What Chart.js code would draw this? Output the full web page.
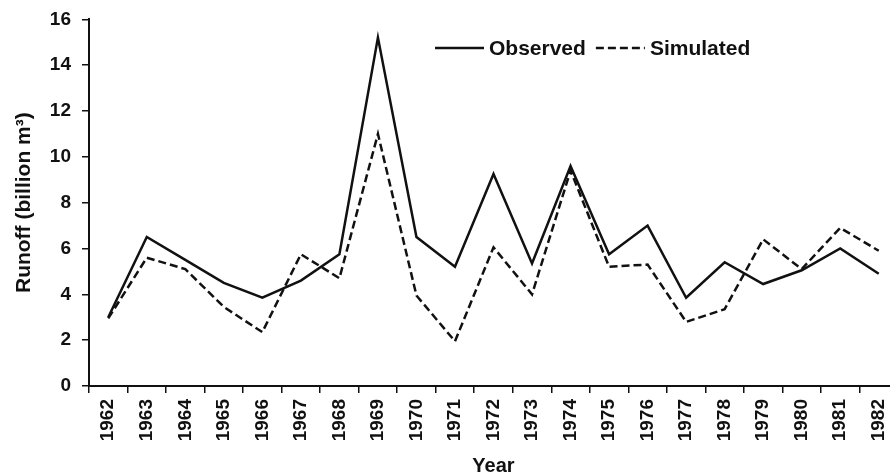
<!DOCTYPE html>
<html>
<head>
<meta charset="utf-8">
<script src="https://cdn.jsdelivr.net/npm/chart.js@4/dist/chart.umd.min.js"></script>
<style>
  html, body { margin: 0; padding: 0; background: #fff; overflow: hidden; }
  /* the original plot runs a few pixels past the right edge */
  #wrap { width: 890px; height: 475px; overflow: hidden; }
</style>
</head>
<body>
<div id="wrap"><canvas id="runoff-chart" width="898" height="475"></canvas></div>
<script>
// runoff per year, billion m3
const years = ['1962', '1963', '1964', '1965', '1966', '1967', '1968', '1969', '1970', '1971', '1972',
               '1973', '1974', '1975', '1976', '1977', '1978', '1979', '1980', '1981', '1982'];
const observed = [3.0, 6.5, 5.5, 4.5, 3.85, 4.6, 5.75, 15.2, 6.5, 5.2, 9.25,
                  5.35, 9.6, 5.75, 7.0, 3.85, 5.4, 4.45, 5.05, 6.0, 4.9];
const simulated = [2.95, 5.6, 5.1, 3.45, 2.35, 5.75, 4.7, 11.0, 3.95, 1.95, 6.05,
                   4.0, 9.4, 5.2, 5.3, 2.8, 3.35, 6.4, 5.1, 6.9, 5.9];
const yTicks = [0, 2, 4, 6, 8, 10, 12, 14, 16];

const ink = '#111';
const fontFamily = '"Liberation Sans", Arial, sans-serif';

// legend drawn inside the plot, one row, line sample then label
const inlineLegend = {
    id: 'inlineLegend',
    afterDraw(chart) {
        const ctx = chart.ctx;
        const y = 48;
        let x = 435;
        ctx.save();
        ctx.font = 'bold 21px ' + fontFamily;
        ctx.textBaseline = 'middle';
        ctx.fillStyle = ink;
        chart.data.datasets.forEach(function(ds) {
            ctx.beginPath();
            ctx.lineWidth = ds.borderWidth;
            ctx.strokeStyle = ds.borderColor;
            ctx.setLineDash(ds.borderDash || []);
            ctx.moveTo(x, y);
            ctx.lineTo(x + 49, y);
            ctx.stroke();
            ctx.setLineDash([]);
            ctx.fillText(ds.label, x + 54, y + 1);
            x += 54 + ctx.measureText(ds.label).width + 10;
        });
        ctx.restore();
    }
};

const ctx = document.getElementById('runoff-chart').getContext('2d');

const chart = new Chart(ctx, {
    type: 'line',
    data: {
        labels: years,
        datasets: [
            {
                label: 'Observed',
                data: observed,
                borderColor: ink,
                borderWidth: 2.5,
                pointRadius: 0,
                tension: 0,
                fill: false
            },
            {
                label: 'Simulated',
                data: simulated,
                borderColor: ink,
                borderWidth: 2.5,
                borderDash: [8, 4],
                pointRadius: 0,
                tension: 0,
                fill: false
            }
        ]
    },
    options: {
        responsive: false,
        animation: false,
        layout: { autoPadding: false, padding: { top: 19.3, right: 0, left: 0, bottom: 0 } },
        plugins: {
            legend: { display: false },
            tooltip: { enabled: false }
        },
        scales: {
            x: {
                type: 'category',
                offset: true,
                grid: { offset: true, drawOnChartArea: false, tickLength: 7, color: ink, lineWidth: 1.5 },
                border: { color: ink, width: 2 },
                ticks: {
                    minRotation: 90,
                    maxRotation: 90,
                    autoSkip: false,
                    padding: 6,
                    color: ink,
                    font: { family: fontFamily, size: 19, weight: 'bold' }
                },
                title: {
                    display: true,
                    text: 'Year',
                    color: ink,
                    padding: { top: 0, bottom: 0 },
                    font: { family: fontFamily, size: 20, weight: 'bold', lineHeight: 0.85 }
                },
                afterFit: function(scale) {
                    scale.height = 89;
                    scale.paddingLeft = 0;
                    scale.paddingRight = 0;
                }
            },
            y: {
                min: 0,
                max: 16,
                afterBuildTicks: function(scale) {
                    scale.ticks = yTicks.map(function(v) { return { value: v }; });
                },
                grid: { drawOnChartArea: false, tickLength: 7, color: ink, lineWidth: 1.5 },
                border: { color: ink, width: 2 },
                ticks: {
                    padding: 11,
                    color: ink,
                    font: { family: fontFamily, size: 19, weight: 'bold' }
                },
                title: {
                    display: true,
                    text: 'Runoff (billion m\u00B3)',
                    color: ink,
                    padding: { top: 14, bottom: 0 },
                    font: { family: fontFamily, size: 21, weight: 'bold', lineHeight: 1 }
                },
                afterFit: function(scale) {
                    scale.width = 89;
                    scale.paddingTop = 0;
                    scale.paddingBottom = 0;
                }
            }
        }
    },
    plugins: [inlineLegend]
});
</script>
</body>
</html>
